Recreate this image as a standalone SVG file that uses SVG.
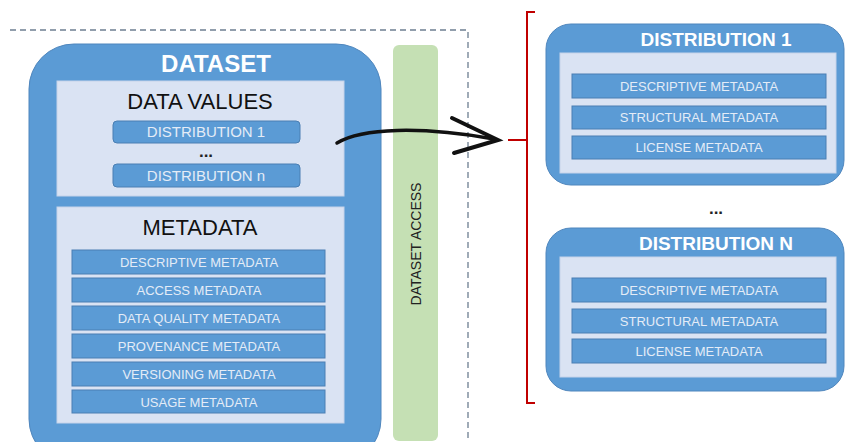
<svg xmlns="http://www.w3.org/2000/svg" width="845" height="442" viewBox="0 0 845 442">
<style>
.outer{fill:#5b9bd5;stroke:#4f86bd;stroke-width:1}
.panel{fill:#dae3f3;stroke:#c6d3ea;stroke-width:1}
.bar{fill:#5b9bd5;stroke:#4a7fb3;stroke-width:1}
.bt{font-family:"Liberation Sans",Arial,sans-serif;fill:#e4ecf7;text-anchor:middle;font-size:13px}
.bt15{font-size:15px}
.title{font-family:"Liberation Sans",Arial,sans-serif;fill:#ffffff;font-weight:bold;text-anchor:middle}
.ptitle{font-family:"Liberation Sans",Arial,sans-serif;fill:#111;text-anchor:middle;font-size:22px}
.dots{font-family:"Liberation Sans",Arial,sans-serif;fill:#222;text-anchor:middle;font-size:17px;font-weight:bold}
</style>
<rect width="845" height="442" fill="#ffffff"/>
<g id="boundary">
<path d="M10,30 H468 V442" fill="none" stroke="#6d7f91" stroke-width="1.3" stroke-dasharray="6,4"/>
</g>
<g id="dataset">
<rect class="outer" x="29" y="44" width="352" height="420" rx="45"/>
<text class="title" x="216" y="72" font-size="24">DATASET</text>
<g id="data-values">
<rect class="panel" x="57" y="81" width="287" height="115"/>
<text class="ptitle" x="200" y="109">DATA VALUES</text>
<g id="dv-dist1"><rect class="bar" x="113" y="121" width="187" height="22" rx="4"/><text class="bt bt15" x="206" y="137">DISTRIBUTION 1</text></g>
<text class="dots" x="206" y="157">...</text>
<g id="dv-distn"><rect class="bar" x="113" y="164" width="187" height="23" rx="4"/><text class="bt bt15" x="206" y="181">DISTRIBUTION n</text></g>
</g>
<g id="metadata">
<rect class="panel" x="57" y="207" width="287" height="216"/>
<text class="ptitle" x="200" y="235">METADATA</text>
<g id="md1"><rect class="bar" x="72" y="250" width="253" height="24"/><text class="bt" x="199" y="267">DESCRIPTIVE METADATA</text></g>
<g id="md2"><rect class="bar" x="72" y="278" width="253" height="24"/><text class="bt" x="199" y="295">ACCESS METADATA</text></g>
<g id="md3"><rect class="bar" x="72" y="306" width="253" height="24"/><text class="bt" x="199" y="323">DATA QUALITY METADATA</text></g>
<g id="md4"><rect class="bar" x="72" y="334" width="253" height="24"/><text class="bt" x="199" y="351">PROVENANCE METADATA</text></g>
<g id="md5"><rect class="bar" x="72" y="362" width="253" height="24"/><text class="bt" x="199" y="379">VERSIONING METADATA</text></g>
<g id="md6"><rect class="bar" x="72" y="390" width="253" height="23"/><text class="bt" x="199" y="407">USAGE METADATA</text></g>
</g>
</g>
<g id="dataset-access">
<rect x="393" y="45" width="45" height="396" rx="6" fill="#c5e0b4"/>
<text x="0" y="0" transform="translate(421,244) rotate(-90)" font-family="Liberation Sans,Arial,sans-serif" font-size="14" fill="#222" text-anchor="middle">DATASET ACCESS</text>
</g>
<g id="distribution-1">
<rect class="outer" x="546" y="24" width="298" height="161" rx="25"/>
<text class="title" x="716" y="46" font-size="19">DISTRIBUTION 1</text>
<rect class="panel" x="560" y="53" width="276" height="120"/>
<g><rect class="bar" x="572" y="74" width="254" height="24"/><text class="bt" x="699" y="91">DESCRIPTIVE METADATA</text></g>
<g><rect class="bar" x="572" y="106" width="254" height="23"/><text class="bt" x="699" y="122">STRUCTURAL METADATA</text></g>
<g><rect class="bar" x="572" y="136" width="254" height="23"/><text class="bt" x="699" y="152">LICENSE METADATA</text></g>
</g>
<text class="dots" x="716" y="214">...</text>
<g id="distribution-n">
<rect class="outer" x="546" y="228" width="298" height="163" rx="25"/>
<text class="title" x="716" y="250" font-size="19">DISTRIBUTION N</text>
<rect class="panel" x="560" y="257" width="276" height="120"/>
<g><rect class="bar" x="572" y="278" width="254" height="24"/><text class="bt" x="699" y="295">DESCRIPTIVE METADATA</text></g>
<g><rect class="bar" x="572" y="309" width="254" height="24"/><text class="bt" x="699" y="326">STRUCTURAL METADATA</text></g>
<g><rect class="bar" x="572" y="339" width="254" height="24"/><text class="bt" x="699" y="356">LICENSE METADATA</text></g>
</g>
<g id="connectors">
<path d="M337,143 C362,128 420,126 494,139" fill="none" stroke="#111" stroke-width="3.5" stroke-linecap="round"/>
<path d="M452,118 L498,140 L454,153" fill="none" stroke="#111" stroke-width="4" stroke-linecap="round" stroke-linejoin="miter"/>
<path d="M535,12 H527 V403 H535 M508,140 H527" fill="none" stroke="#c00000" stroke-width="2"/>
</g>
</svg>
